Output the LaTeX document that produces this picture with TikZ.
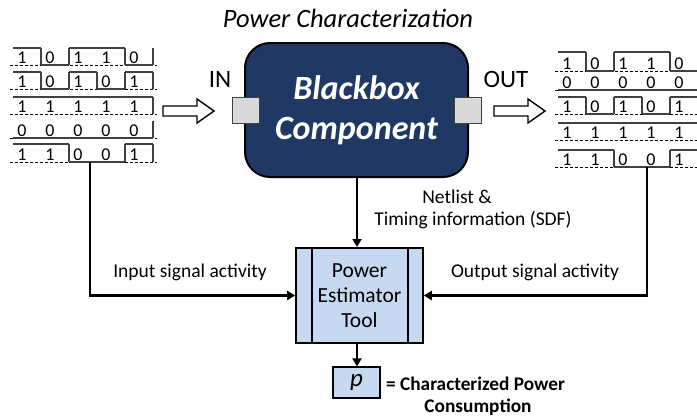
\documentclass[tikz,border=0pt]{standalone}
\usepackage{fontspec}
\setmainfont{Carlito}
\usetikzlibrary{calc,arrows.meta}
\definecolor{navy}{HTML}{1F3864}
\definecolor{lblue}{HTML}{C6D9F1}
\definecolor{port}{HTML}{D9D9D9}
\definecolor{sigc}{HTML}{404040}
\newcommand{\wavrow}[4]{% x0, top, bottom, bits
  \draw[basel] ({#1-3},#3) -- ({#1+28*5+4},#3);
  \foreach \v [count=\i from 0, remember=\v as \pv (initially 0)] in {#4} {
    \pgfmathsetmacro\xa{#1+28*\i}
    \pgfmathsetmacro\xb{#1+28*(\i+1)}
    \pgfmathsetmacro\yy{\v==1 ? #2 : #3}
    \draw[sig] (\xa,\yy) -- (\xb,\yy);
    \ifnum\i>0 \ifnum\v=\pv\else \draw[sig] (\xa,#2) -- (\xa,#3); \fi\fi
    \node[digit] at ({(\xa+\xb)/2-5},{#3-1.5}) {\v};
  }
  \draw[sig] ({#1+28*5},#2) -- ({#1+28*5},#3);
}
\begin{document}
\begin{tikzpicture}[x=1pt,y=-1pt,
  sig/.style={draw=sigc,line width=1.1pt},
  basel/.style={draw=black,line width=0.8pt,dash pattern=on 3pt off 2pt},
  digit/.style={anchor=base,inner sep=0pt,font=\fontsize{18}{18}\selectfont},
  conn/.style={line width=2.8pt,-{Triangle[length=8pt,width=9pt]}},
  hol/.style={draw=black,line width=1.4pt,fill=white,line join=miter},
  lbl/.style={inner sep=0pt,font=\fontsize{19.5}{22}\selectfont},
  portbox/.style={draw=sigc,fill=port,line width=1pt,minimum width=27pt,minimum height=26pt,inner sep=0pt}]
\useasboundingbox (0,0) rectangle (697,418);
\clip (0,0) rectangle (697,418);

% title
\node[inner sep=0pt,font=\fontsize{26.5}{26.5}\selectfont\itshape] (title) at (348,18) {Power Characterization};

% left waveforms
\wavrow{13}{48}{65}{1,0,1,1,0}
\wavrow{13}{72}{89}{1,0,1,0,1}
\wavrow{13}{97}{114}{1,1,1,1,1}
\wavrow{13}{121}{138}{0,0,0,0,0}
\wavrow{13}{144}{162}{1,1,0,0,1}
% right waveforms
\wavrow{558}{52}{71}{1,0,1,1,0}
\wavrow{558}{74}{90}{0,0,0,0,0}
\wavrow{558}{97}{114}{1,0,1,0,1}
\wavrow{558}{123}{140}{1,1,1,1,1}
\wavrow{558}{150}{167}{1,1,0,0,1}

% blackbox
\node[draw=black,line width=2pt,fill=navy,rounded corners=25pt,minimum width=223pt,minimum height=134pt,
  text=white,align=center,font=\fontsize{34}{40}\selectfont\bfseries\itshape] (bb) at (356.5,110) {Blackbox\\Component};
\node[portbox] (pin) at (245.5,110) {};
\node[portbox] (pout) at (467.5,110) {};
\node[inner sep=0pt,font=\fontsize{25}{25}\selectfont] (in) at (220,79) {IN};
\node[inner sep=0pt,font=\fontsize{25}{25}\selectfont] (out) at (506,79) {OUT};

% hollow arrows
\draw[hol] (163,106) -- (197,106) -- (197,99) -- (214,111) -- (197,123) -- (197,116) -- (163,116) -- cycle;
\draw[hol] (494,106) -- (528,106) -- (528,99) -- (545,111) -- (528,123) -- (528,116) -- (494,116) -- cycle;

% power estimator
\node[draw=black,line width=1.6pt,fill=lblue,minimum width=127pt,minimum height=95pt,align=center,
  font=\fontsize{21.5}{25}\selectfont] (est) at (359.5,295.5) {Power\\Estimator\\Tool};
\draw[line width=1.6pt] ($(est.north)+(-47.5,0)$) -- ($(est.south)+(-47.5,0)$);
\draw[line width=1.6pt] ($(est.north)+(48.5,0)$) -- ($(est.south)+(48.5,0)$);

% p box
\node[draw=black,line width=1.3pt,fill=lblue,minimum width=47pt,minimum height=31pt,inner sep=0pt,
  font=\fontsize{25}{25}\selectfont\itshape] (p) at (356.5,382.5) {p};
\node[inner sep=0pt,anchor=west,font=\fontsize{19.3}{20}\selectfont\bfseries] (eq) at (386,384) {= Characterized Power};
\node[inner sep=0pt,font=\fontsize{19.3}{20}\selectfont\bfseries] (cons) at (478,407) {Consumption};

% labels
\node[lbl] (net1) at (457,197) {Netlist \&};
\node[lbl] (net2) at (473,220) {Timing information (SDF)};
\node[lbl] (isa) at (190,272) {Input signal activity};
\node[lbl] (osa) at (535,272) {Output signal activity};

% connectors
\coordinate (lw) at (90,162);
\coordinate (rw) at (647,167);
\draw[conn] (bb.south -| 357,0) -- (357,247);
\draw[conn] (est.south -| 357,0) -- (p.north -| 357,0);
\draw[conn] (lw) |- (est.west);
\draw[conn] (rw) |- (est.east);
\end{tikzpicture}
\end{document}
